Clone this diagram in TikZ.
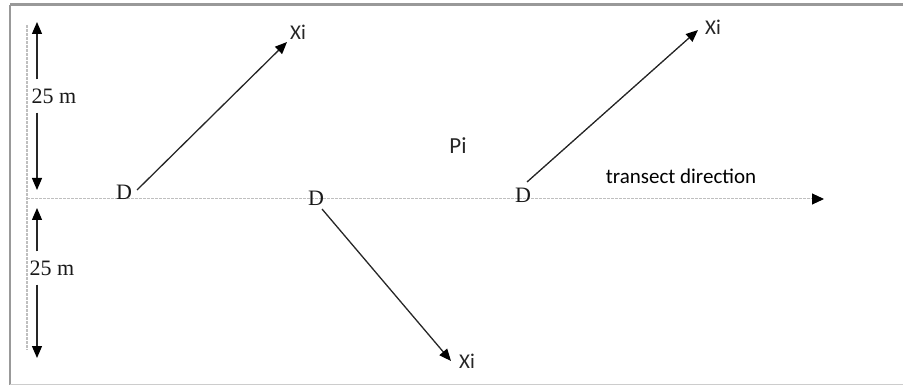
\documentclass[tikz,border=0pt]{standalone}
\usepackage{fontspec}
\setmainfont{Liberation Serif}
\newfontfamily\calfont{Carlito}
\usetikzlibrary{arrows.meta}
\tikzset{
  frameline/.style={draw=black!40},
  guide/.style={draw=black!25, line width=1.2pt, dash pattern=on 3pt off 1pt},
  ptr/.style={draw=black!85, line width=1.3pt, -{Triangle[length=12pt,width=10pt,color=black]}},
  serifl/.style={font=\fontsize{22}{26}\selectfont, inner sep=0pt, text=black!90},
  sansl/.style={font=\calfont\fontsize{21}{25}\selectfont, inner sep=0pt, text=black!85},
}
\begin{document}
\begin{tikzpicture}[x=1pt,y=-1pt]
\useasboundingbox (0,0) rectangle (903,385);
% frame
\draw[frameline, line width=3pt] (10,5) -- (903,5);
\draw[frameline, line width=2pt] (10,5) -- (10,385);
\draw[draw=black!20, line width=1pt] (10,384) -- (903,384);
% vertical guide
\coordinate (vg1) at (27,25);
\coordinate (vg2) at (27,350);
\draw[guide] (vg1) -- (vg2);
% transect line
\coordinate (tl1) at (27,199);
\coordinate (tl2) at (824,199);
\draw[guide, line width=1pt, -{Triangle[length=12pt,width=11pt,color=black]}] (tl1) -- (tl2);
% 25 m arrows
\node[serifl] (m1) at (54,96) {25 m};
\node[serifl] (m2) at (52,268) {25 m};
\coordinate (a1t) at (37,22);
\coordinate (a1b) at (37,190);
\coordinate (a2t) at (37,208);
\coordinate (a2b) at (37,358);
\draw[ptr] ([yshift=9pt]a1t |- m1.north) -- (a1t);
\draw[ptr] ([yshift=-9pt]a1t |- m1.south) -- (a1b);
\draw[ptr] ([yshift=9pt]a2t |- m2.north) -- (a2t);
\draw[ptr] ([yshift=-9pt]a2t |- m2.south) -- (a2b);
% D points
\node[serifl] (D1) at (124,192) {D};
\node[serifl] (D2) at (316,198) {D};
\node[serifl] (D3) at (523,195) {D};
% Xi labels
\node[sansl] (X1) at (298,32) {Xi};
\node[sansl] (X2) at (467,361) {Xi};
\node[sansl] (X3) at (713,27) {Xi};
% arrows
\coordinate (s1) at (137,190);
\coordinate (t1) at (287,42);
\coordinate (s2) at (322,209);
\coordinate (t2) at (451,361);
\coordinate (s3) at (527,182);
\coordinate (t3) at (698,30);
\draw[ptr] (s1) -- (t1);
\draw[ptr] (s2) -- (t2);
\draw[ptr] (s3) -- (t3);
% labels
\node[sansl, font=\calfont\fontsize{23}{27}\selectfont] (Pi) at (458,146) {Pi};
\node[sansl, text=black] (td) at (681,176) {transect direction};
\end{tikzpicture}
\end{document}
